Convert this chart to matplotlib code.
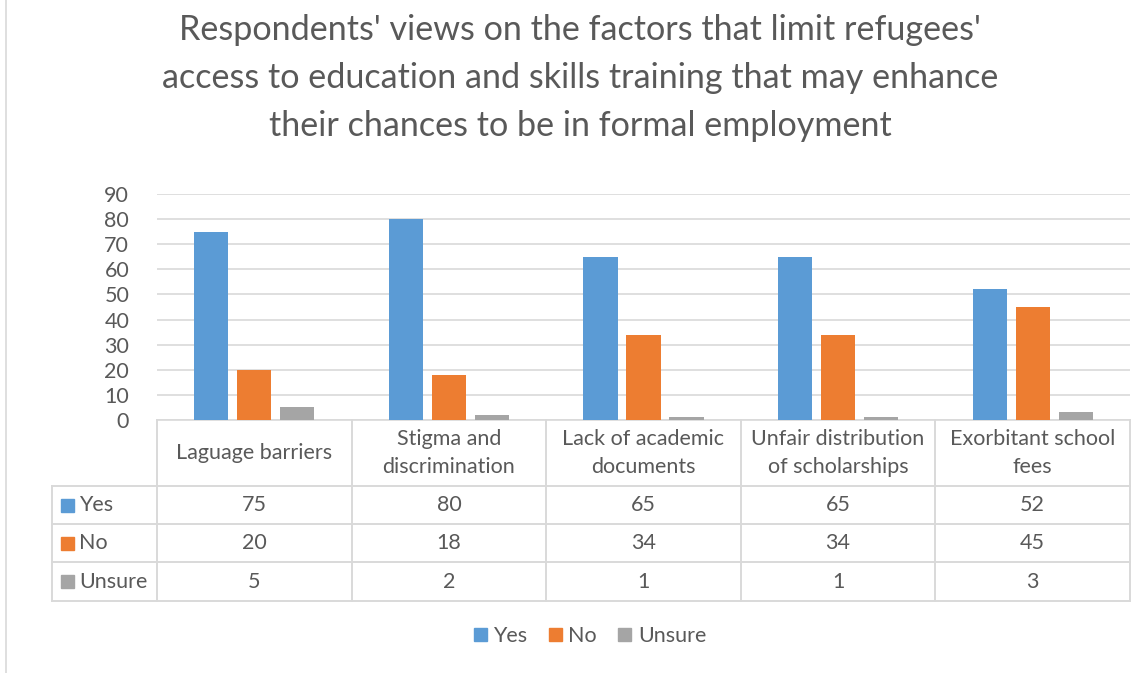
import matplotlib
matplotlib.use("Agg")
import matplotlib.pyplot as plt
from matplotlib.lines import Line2D
from matplotlib.patches import Patch
import numpy as np

categories = ["Laguage barriers", "Stigma and\ndiscrimination", "Lack of academic\ndocuments",
              "Unfair distribution\nof scholarships", "Exorbitant school\nfees"]
series = ["Yes", "No", "Unsure"]
yes = [75, 80, 65, 65, 52]
no = [20, 18, 34, 34, 45]
unsure = [5, 2, 1, 1, 3]
yticks = list(range(0, 100, 10))

colors = ["#5B9BD5", "#ED7D31", "#A5A5A5"]
text_c = "#595959"
grid_c = "#D9D9D9"
plt.rcParams["font.family"] = ["Lato", "DejaVu Sans"]
fs = 15.5

W, H = 1145, 673
fig = plt.figure(figsize=(W / 100, H / 100), dpi=100)


def box(x0, y0, x1, y1):
    # pixel box (top-left origin) -> figure fraction rect
    return [x0 / W, 1 - y1 / H, (x1 - x0) / W, (y1 - y0) / H]


# chart border on the left
fig.add_artist(Line2D([6 / W, 6 / W], [0, 1], color=grid_c, lw=1.2))

fig.text(580 / W, 1 - 78 / H,
         "Respondents' views on the factors that limit refugees'\n"
         "access to education and skills training that may enhance\n"
         "their chances to be in formal employment",
         ha="center", va="center", fontsize=24.6, color=text_c, linespacing=1.62)

ax = fig.add_axes(box(157, 194, 1130, 420))
x = np.arange(len(categories))
bw = 0.175
step = bw + 0.046
for i, (vals, c) in enumerate(zip([yes, no, unsure], colors)):
    ax.bar(x + (i - 1) * step, vals, width=bw, color=c, zorder=3)
ax.set_xlim(-0.5, len(categories) - 0.5)
ax.set_ylim(0, 90)
ax.set_yticks(yticks)
ax.yaxis.grid(True, color=grid_c, lw=1.2, zorder=0)
ax.set_xticks([])
for s in ["top", "right", "left"]:
    ax.spines[s].set_visible(False)
ax.spines["bottom"].set_color(grid_c)
ax.spines["bottom"].set_linewidth(1.2)
ax.tick_params(axis="y", length=0, labelsize=fs, labelcolor=text_c, pad=20)

# data table under the plot
label_w = (157 - 52) / ((1130 - 157) / len(categories))
row_edges = [0, 66, 104, 142, 181]
tab = fig.add_axes(box(52, 420, 1130, 601))
tab.set_xlim(-0.5 - label_w, len(categories) - 0.5)
tab.set_ylim(row_edges[-1], 0)
tab.axis("off")
lkw = dict(color=grid_c, lw=1.4, clip_on=False)
for k in range(len(categories) + 1):
    tab.plot([k - 0.5, k - 0.5], [0, row_edges[-1]], **lkw)
tab.plot([-0.5 - label_w] * 2, [row_edges[1], row_edges[-1]], **lkw)
for r in row_edges[1:]:
    tab.plot([-0.5 - label_w, len(categories) - 0.5], [r, r], **lkw)

for j, cat in enumerate(categories):
    tab.text(j, row_edges[1] / 2, cat, ha="center", va="center", fontsize=fs,
             color=text_c, linespacing=1.45)
for r, (name, vals, c) in enumerate(zip(series, [yes, no, unsure], colors)):
    yc = (row_edges[r + 1] + row_edges[r + 2]) / 2
    tab.add_patch(plt.Rectangle((-0.5 - label_w + 0.045, yc - 6.5), 0.07, 13,
                                color=c, clip_on=False))
    tab.text(-0.5 - label_w + 0.14, yc, name, ha="left", va="center",
             fontsize=fs, color=text_c)
    for j, v in enumerate(vals):
        tab.text(j, yc, str(v), ha="center", va="center", fontsize=fs, color=text_c)

handles = [Patch(color=c, label=s) for s, c in zip(series, colors)]
fig.legend(handles=handles, loc="center", bbox_to_anchor=(590 / W, 1 - 636 / H),
           ncol=3, frameon=False, fontsize=fs, labelcolor=text_c,
           handlelength=0.6, handleheight=0.6, handletextpad=0.3, columnspacing=1.0)

fig.savefig("out.png", dpi=100, facecolor="white")
